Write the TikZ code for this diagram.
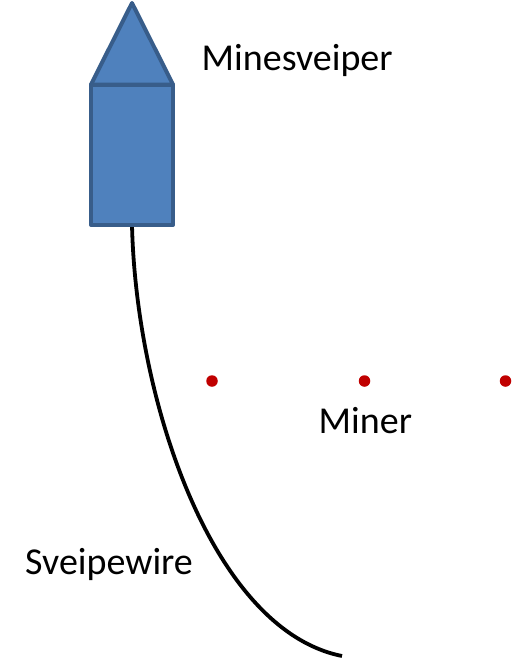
\documentclass[tikz,border=0pt]{standalone}
\usepackage{fontspec}
\setmainfont{Carlito}
\definecolor{shipfill}{HTML}{4F81BD}
\definecolor{shipline}{HTML}{385D8A}
\definecolor{minered}{HTML}{C00000}
\tikzset{
  ship/.style={fill=shipfill,draw=shipline,line width=4pt,line join=round},
  minedot/.style={circle,fill=minered,draw=none,minimum size=11.5pt,inner sep=0pt},
  lab/.style={font=\fontsize{38}{44}\selectfont,text=black,inner sep=0pt,anchor=base west},
  wire/.style={draw=black,line width=3.8pt}
}
\begin{document}
\begin{tikzpicture}[x=1pt,y=-1pt]
\useasboundingbox (0,0) rectangle (512,659);
\coordinate (wirestart) at (132,225);
\coordinate (wireend) at (342,656);
\draw[wire] (wirestart) .. controls (136,400) and (212,630) .. (wireend);
\draw[ship] (91,84.5) -- (132,3) -- (173,84.5) -- cycle;
\draw[ship] (91,84.5) rectangle (173,225);
\node[minedot] (m1) at (212,381) {};
\node[minedot] (m2) at (364.5,381) {};
\node[minedot] (m3) at (505.5,381) {};
\node[lab] (t1) at (201.5,70) {Minesveiper};
\node[lab] (t2) at (318.5,433) {Miner};
\node[lab] (t3) at (25,574) {Sveipewire};
\end{tikzpicture}
\end{document}
